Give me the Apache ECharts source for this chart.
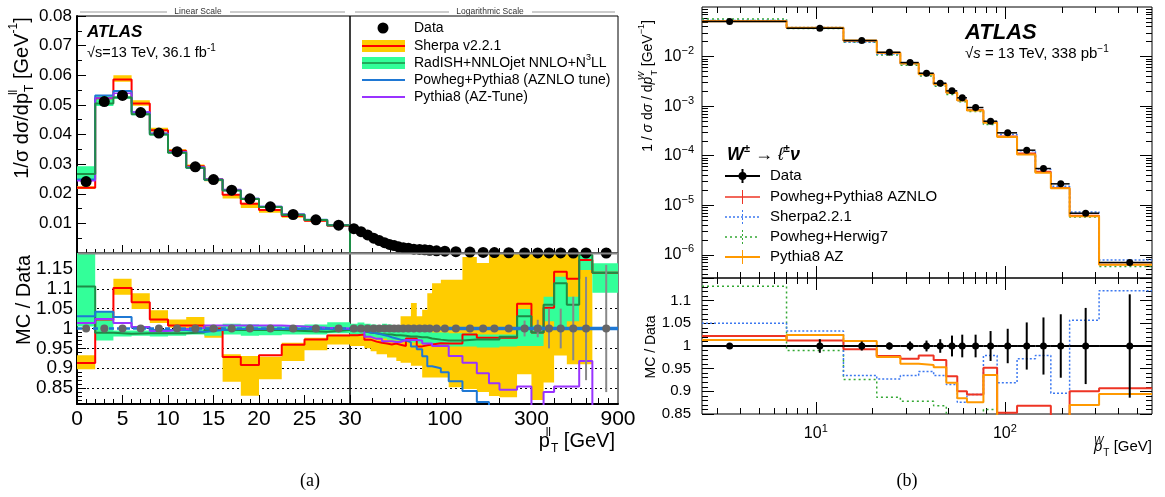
<!DOCTYPE html>
<html><head><meta charset="utf-8">
<script src="https://cdn.jsdelivr.net/npm/echarts@6/dist/echarts.min.js"></script>
<style>html,body{margin:0;padding:0;background:#fff}#c{width:1165px;height:497px}</style>
</head><body><div id="c"></div>
<script>
// ================= Panel (a): Z boson pT =================
// linear part (0-30 GeV)
const edgesLin = [0,2,4,6,8,10,12,14,16,18,20,22.5,25,27.5,30];
const dataLin = [0.0241,0.0511,0.0532,0.0474,0.0405,0.0342,0.0291,0.0248,0.0212,0.0183,0.0156,0.0130,0.0112,0.0094];
const sherpaLin = [0.0220,0.0522,0.0586,0.0505,0.0414,0.0345,0.0293,0.0249,0.0197,0.0166,0.01455,0.01247,0.01089,0.00924];
const sherpaLinLo = [0.0216,0.0517,0.0578,0.0497,0.0410,0.0342,0.0289,0.0242,0.0184,0.0152,0.0136,0.0119,0.0106,0.0090];
const sherpaLinHi = [0.0225,0.0528,0.0600,0.0516,0.0423,0.0350,0.0299,0.0250,0.0198,0.0170,0.0145,0.0125,0.0109,0.0093];
const radishLin = [0.0267,0.0505,0.0525,0.0468,0.0400,0.0338,0.0288,0.0247,0.0211,0.0182,0.01554,0.01292,0.01111,0.00936];
const radishLinLo = [0.0244,0.0496,0.0521,0.0465,0.0397,0.0336,0.0287,0.0244,0.0209,0.0180,0.0153,0.0128,0.0110,0.0093];
const radishLinHi = [0.0293,0.0533,0.0529,0.0472,0.0403,0.0341,0.0291,0.0249,0.0215,0.0185,0.0157,0.0131,0.0113,0.0095];
const powhegLin = [0.0248,0.0532,0.0547,0.0475,0.0403,0.0341,0.0288,0.0247,0.0212,0.0183,0.0156,0.0130,0.0112,0.0094];
const pythiaLin = [0.0244,0.0523,0.0539,0.0476,0.0403,0.0342,0.0291,0.0250,0.0214,0.0184,0.0157,0.0131,0.0112,0.0094];
// ratios, linear part
const dataRatioLin = [1,1,1,1,1,1,1,1,1,1,1,1,1,1];
const sherpaRLin = [0.913,1.0225,1.102,1.066,1.0225,1.0075,1.0075,1.0,0.928,0.908,0.9325,0.959,0.9725,0.9825];
const sherpaRLinLo = [0.8975,1.01,1.085,1.049,1.014,1.0017,0.993,0.977,0.866,0.831,0.872,0.918,0.945,0.96];
const sherpaRLinHi = [0.9325,1.035,1.125,1.089,1.046,1.0225,1.029,1.006,0.935,0.931,0.929,0.964,0.977,0.985];
const radishRLin = [1.106,0.989,0.987,0.988,0.988,0.988,0.99,0.996,0.996,0.996,0.996,0.994,0.992,0.996];
const radishRLinLo = [1.005,0.97,0.98,0.982,0.98,0.982,0.985,0.982,0.985,0.982,0.983,0.985,0.985,0.988];
const radishRLinHi = [1.25,1.043,0.995,0.995,0.995,0.997,1.0,1.005,1.012,1.01,1.008,1.008,1.01,1.016];
const powhegRLin = [1.031,1.042,1.029,1.002,0.996,0.996,0.991,0.996,0.999,0.999,0.999,0.999,0.999,0.999];
const pythiaRLin = [1.014,1.024,1.014,1.004,0.994,0.999,1.001,1.0075,1.0075,1.0075,1.0075,1.005,1.002,1.0];
// logarithmic part (30-900 GeV)
const edgesLog = [30,33,36,39,42,45,48,51,54,57,61,65,70,75,80,85,95,105,125,150,175,200,250,300,350,400,470,550,650,900];
const dataLog = [0.0082,0.0072,0.0061,0.0050,0.0042,0.0035,0.0029,0.0025,0.0021,0.0018,0.0016,0.0013,0.0012,0.0011,0.0009,0.00075,0.0006,0.00045,0.0003,0.0002,0.00013,0.00008,0.00004,0.00002,0.000012,0.000007,0.0000035,0.0000015,0.0000004];
const dataRatioLog = [1,1,1,1,1,1,1,1,1,1,1,1,1,1,1,1,1,1,1,1,1,1,1,1,1,1,1,1,1];
const dataRatioLogErr = [0.002,0.002,0.002,0.002,0.002,0.002,0.002,0.002,0.002,0.002,0.002,0.002,0.002,0.002,0.002,0.002,0.002,0.003,0.004,0.005,0.006,0.008,0.02,0.022,0.05,0.05,0.08,0.13,0.16];
const sherpaRLog = [0.983,0.985,0.972,0.967,0.964,0.962,0.96,0.962,0.959,0.956,0.975,0.975,0.955,0.958,0.96,0.963,0.962,0.962,0.985,0.977,0.977,0.977,1.0625,0.99,1.052,1.143,1.125,1.1725,1.14];
const sherpaRLogLo = [0.956,0.956,0.95,0.943,0.935,0.935,0.927,0.927,0.918,0.914,0.914,0.906,0.906,0.877,0.877,0.877,0.877,0.852,0.8475,0.84,0.83,0.827,0.885,0.82,0.864,0.932,0.91,0.91,null];
const sherpaRLogHi = [0.99,0.995,0.995,0.998,1.0,1.0,1.002,1.003,1.004,1.031,1.031,1.064,1.031,1.0475,1.089,1.114,1.1225,1.1225,1.18,1.165,1.19,1.19,1.19,1.19,1.19,1.19,1.19,1.19,null];
const radishRLog = [0.995,0.993,0.99,0.988,0.986,0.985,0.985,0.983,0.983,0.982,0.98,0.98,0.978,0.978,0.975,0.972,0.97,0.97,0.9725,0.9725,0.9725,0.979,1.031,0.99,1.06,1.114,1.06,1.185,1.14];
const radishRLogLo = [0.985,0.983,0.98,0.978,0.975,0.975,0.972,0.97,0.97,0.968,0.968,0.965,0.962,0.96,0.958,0.955,0.955,0.955,0.955,0.952,0.952,0.955,0.956,0.956,1.018,0.9975,1.018,1.1475,1.09];
const radishRLogHi = [1.012,1.015,1.012,1.01,1.008,1.012,1.01,1.008,1.008,1.006,1.0,1.0,0.998,0.996,0.994,0.99,0.99,0.988,0.988,0.985,0.985,0.985,1.049,1.0075,1.08,1.13,1.08,1.19,1.164];
const powhegRLog = [0.997,0.993,0.99,0.988,0.985,0.982,0.978,0.975,0.972,0.97,0.965,0.955,0.948,0.93,0.905,0.9,0.89,0.8675,0.843,0.815,0.79,0.77,0.75,0.74,0.73,0.72,0.71,0.70,0.69];
const pythiaRLog = [0.997,0.995,0.979,0.974,0.974,0.968,0.968,0.966,0.966,0.971,0.971,0.971,0.97,0.9625,0.9625,0.956,0.956,0.931,0.914,0.8875,0.862,0.846,0.854,0.79,0.84,0.854,0.854,0.918,0.79];
// tick labels (a)
const yTicksA = [0.01,0.02,0.03,0.04,0.05,0.06,0.07,0.08];
const ratioTicksA = [0.85,0.9,0.95,1,1.05,1.1,1.15];
const logLabelsA = [100,300,900];
const logTicksA = [40,50,60,70,80,90,100,200,300,400,500,600,700,800];
const ratioRef = 1;

// ================= Panel (b): W boson pT =================
const edgesB = [0,7,14,21,28,35,42,49,56,63,77,91,116,145,175,220,315,600];
const dataB = [0.0508,0.0373,0.0210,0.0122,0.00757,0.00461,0.00290,0.00203,0.00147,0.000936,0.000496,0.000289,0.000129,0.000055,0.000027,0.0000069,0.00000070];
const dataBRelErr = [0.004,0.015,0.01,0.008,0.01,0.012,0.015,0.023,0.025,0.025,0.033,0.038,0.052,0.063,0.07,0.084,0.114];
const aznloB = [0.0519,0.0377,0.0209,0.0119,0.00736,0.00451,0.00281,0.00189,0.00132,0.000836,0.000472,0.000247,0.000112,0.0000477,0.0000224,0.0000062,0.000000635];
const sherpaB = [0.0533,0.0385,0.0196,0.0113,0.00708,0.00435,0.00271,0.00186,0.00129,0.000836,0.000486,0.000266,0.000125,0.0000538,0.0000242,0.0000073,0.000000785];
const herwigB = [0.0575,0.0369,0.0194,0.0108,0.00665,0.00405,0.00252,0.00171,0.00123,0.000777,0.000427,0.00024,0.000108,0.0000462,0.0000224,0.0000058,0.00000058];
const pythiaB = [0.0515,0.0382,0.0212,0.0119,0.00727,0.00442,0.00276,0.00187,0.00130,0.00082,0.000464,0.000237,0.000106,0.0000451,0.0000221,0.0000060,0.000000626];
const dataRatioB = [1,1,1,1,1,1,1,1,1,1,1,1,1,1,1,1,1];
const aznloRB = [1.022,1.012,0.993,0.978,0.972,0.979,0.969,0.933,0.90,0.893,0.952,0.853,0.868,0.868,0.83,0.90,0.907];
const sherpaRB = [1.050,1.033,0.935,0.927,0.935,0.944,0.935,0.915,0.876,0.893,0.979,0.919,0.972,0.979,0.896,1.057,1.122];
const herwigRB = [1.132,0.990,0.926,0.887,0.878,0.878,0.868,0.84,0.84,0.83,0.86,0.83,0.84,0.84,0.83,0.84,0.83];
const pythiaRB = [1.013,1.024,1.011,0.976,0.961,0.958,0.953,0.919,0.885,0.876,0.936,0.82,0.82,0.82,0.82,0.870,0.894];
// tick labels (b)
const xLabelsB = [10,100];
const xMinorB = [3,4,5,6,7,8,9,20,30,40,50,60,70,80,90,200,300,400,500];
const yLabelsB = [1e-6,1e-5,1e-4,1e-3,1e-2];
const yMinorB = [];
for (let e = -7; e <= -2; e++) for (let m = 2; m <= 9; m++) { const v = +(m * Math.pow(10, e)).toPrecision(3); if (v >= 3.4e-7 && v <= 0.1) yMinorB.push(v); }
const ratioMinorA = [];
for (let k = 82; k <= 118; k++) if (k % 5) ratioMinorA.push(k / 100);

// ================= helpers =================
const F = "'Liberation Sans', Arial, Helvetica, sans-serif";
const FS = "'Liberation Serif', 'Times New Roman', serif";
const COL = {sherpaBand:'#FFCC00', sherpa:'#FF0000', radBand:'#33FF99', rad:'#1E8C46', powheg:'#1F78D4', pythia:'#9933FF',
  gray:'#666666', bRed:'#EE3424', bOrange:'#FF9900', bBlue:'#3C78F0', bGreen:'#33A833'};

function stepData(edges, vals, xmin) {
  const d = vals.map((v, i) => [Math.max(edges[i], xmin), v]);
  d.push([edges[vals.length], vals[vals.length - 1]]);
  return d;
}
function stepLine(xi, yi, data, color, width, dash, z) {
  return {type:'line', xAxisIndex:xi, yAxisIndex:yi, step:'end', symbol:'none', data, clip:true, silent:true, z: z || 3,
    lineStyle:{color, width, type: dash || 'solid'}};
}
// band drawn as one stepped polygon per contiguous run of bins
function band(xi, yi, edges, lo, hi, color, xmin, z) {
  const segs = []; let cur = null;
  lo.forEach((l, i) => {
    if (l != null && hi[i] != null) {
      if (!cur) { cur = []; segs.push(cur); }
      cur.push([Math.max(edges[i], xmin), edges[i + 1], l, hi[i]]);
    } else cur = null;
  });
  return {type:'custom', xAxisIndex:xi, yAxisIndex:yi, clip:true, silent:true, z: z || 2,
    data: segs.map(s => [s[0][0], s[s.length - 1][1], s[0][3]]),
    encode:{x:[0,1], y:[2]},
    renderItem(p, api) {
      const s = segs[p.dataIndex];
      const top = [], bot = [];
      s.forEach(r => {
        top.push(api.coord([r[0], r[3]]), api.coord([r[1], r[3]]));
        bot.push(api.coord([r[0], r[2]]), api.coord([r[1], r[2]]));
      });
      return {type:'polygon', shape:{points: top.concat(bot.reverse())}, style:{fill:color}};
    }};
}
function dots(xi, yi, edges, vals, color, size, z) {
  return {type:'scatter', xAxisIndex:xi, yAxisIndex:yi, symbolSize:size, silent:true, z: z || 6,
    itemStyle:{color, opacity:1}, data: vals.map((v, i) => [(edges[i] + edges[i + 1]) / 2, v])};
}
function errSeries(xi, yi, edges, vals, relErr, o) {
  const data = vals.map((v, i) => [Math.max(edges[i], o.xmin), edges[i + 1], (edges[i] + edges[i + 1]) / 2, v, relErr[i]]);
  return {type:'custom', xAxisIndex:xi, yAxisIndex:yi, clip:true, silent:true, z: o.z || 6, data,
    encode:{x:[0,1,2], y:[3]},
    renderItem(p, api) {
      const x0 = api.value(0), x1 = api.value(1), xc = api.value(2), y = api.value(3), e = api.value(4);
      const c = api.coord([xc, y]), hi = api.coord([xc, y * (1 + e)]), lo = api.coord([xc, y * (1 - e)]);
      const ch = [];
      if (o.xbar) {
        const L = api.coord([x0, y]), R = api.coord([x1, y]);
        ch.push({type:'line', shape:{x1:L[0], y1:L[1], x2:R[0], y2:R[1]}, style:{stroke:o.color, lineWidth:o.lw}});
      }
      ch.push({type:'line', shape:{x1:c[0], y1:hi[1], x2:c[0], y2:lo[1]}, style:{stroke:o.color, lineWidth:o.lw}});
      if (o.r) ch.push({type:'circle', shape:{cx:c[0], cy:c[1], r:o.r}, style:{fill:o.color}});
      return {type:'group', children: ch};
    }};
}
function refLine(xi, yi, x0, x1, color, width, dash) {
  return {type:'line', xAxisIndex:xi, yAxisIndex:yi, symbol:'none', silent:true, z:5, data:[[x0, ratioRef],[x1, ratioRef]],
    lineStyle:{color, width, type: dash || 'solid'}};
}
const TK = {color:'#000', width:1};
const noLine = {show:false, onZero:false};
const thick = {show:true, onZero:false, lineStyle:{color:'#000', width:2}};
const powLabel = v => '{b|10}{s|' + String(Math.round(Math.log10(v))).replace('-', '\u2212') + '}';
const powRich = {
  b:{fontSize:16, fontFamily:F, color:'#000', lineHeight:22, verticalAlign:'middle'},
  s:{fontSize:11, fontFamily:F, color:'#000', lineHeight:11, verticalAlign:'top'}
};

// ================= axes =================
function bxAxes(g, labels) {
  const base = {gridIndex:g, type:'log', min:2.5, max:600, axisLine:noLine, splitLine:{show:false}};
  return [
    Object.assign({}, base, {position:'bottom', axisTick:{inside:true, length:12, customValues:xLabelsB, lineStyle:TK},
      axisLabel: labels ? {customValues:xLabelsB, formatter:powLabel, rich:powRich, margin:9} : {show:false}}),
    Object.assign({}, base, {position:'bottom', axisTick:{inside:true, length:6, customValues:xMinorB, lineStyle:TK}, axisLabel:{show:false}}),
    Object.assign({}, base, {position:'top', axisTick:{inside:true, length:12, customValues:xLabelsB, lineStyle:TK}, axisLabel:{show:false}}),
    Object.assign({}, base, {position:'top', axisTick:{inside:true, length:6, customValues:xMinorB, lineStyle:TK}, axisLabel:{show:false}})
  ];
}
const xAxis = [
  {gridIndex:0, type:'value', min:0, max:30, interval:5, axisLine:noLine, axisTick:{inside:true, length:8, lineStyle:TK},
    minorTick:{show:true, splitNumber:5, length:4, lineStyle:TK}, axisLabel:{show:false}, splitLine:{show:false}},
  {gridIndex:1, type:'log', min:30, max:900, axisLine:noLine, axisTick:{inside:true, length:5, customValues:logTicksA, lineStyle:TK},
    axisLabel:{show:false}, splitLine:{show:false}},
  {gridIndex:2, type:'value', min:0, max:30, interval:5, axisLine:thick, axisTick:{inside:true, length:9, lineStyle:TK},
    minorTick:{show:true, splitNumber:5, length:5, lineStyle:TK}, axisLabel:{fontSize:21, color:'#000', fontFamily:F, margin:5}, splitLine:{show:false}},
  {gridIndex:3, type:'log', min:30, max:900, axisLine:thick, axisTick:{inside:true, length:6, customValues:logTicksA, lineStyle:TK},
    axisLabel:{customValues:logLabelsA, fontSize:21, color:'#000', fontFamily:F, margin:5}, splitLine:{show:false}},
  ...bxAxes(4, false),   // 4..7
  ...bxAxes(5, true)     // 8..11
];
const dotted = {show:true, lineStyle:{color:'#000', width:1, type:[2,3]}};
function byAxes() {
  const base = {gridIndex:4, type:'log', min:3.4e-7, max:0.1, axisLine:noLine, splitLine:{show:false}};
  return [
    Object.assign({}, base, {position:'left', axisTick:{inside:true, length:12, customValues:yLabelsB, lineStyle:TK},
      axisLabel:{customValues:yLabelsB, formatter:powLabel, rich:powRich, margin:8}}),
    Object.assign({}, base, {position:'left', axisTick:{inside:true, length:6, customValues:yMinorB, lineStyle:TK}, axisLabel:{show:false}}),
    Object.assign({}, base, {position:'right', axisTick:{inside:true, length:12, customValues:yLabelsB, lineStyle:TK}, axisLabel:{show:false}}),
    Object.assign({}, base, {position:'right', axisTick:{inside:true, length:6, customValues:yMinorB, lineStyle:TK}, axisLabel:{show:false}})
  ];
}
const yAxis = [
  {gridIndex:0, type:'value', min:0, max:0.08, interval:0.01, axisLine:thick, axisTick:{inside:true, length:9, lineStyle:TK},
    minorTick:{show:true, splitNumber:2, length:5, lineStyle:TK},
    axisLabel:{fontSize:17, color:'#000', fontFamily:F, margin:5, formatter: v => yTicksA.indexOf(+v.toFixed(2)) >= 0 ? v.toFixed(2) : ''}, splitLine:{show:false}},
  {gridIndex:1, type:'value', min:0, max:0.08, show:false},
  {gridIndex:2, type:'value', min:0.81, max:1.19, axisLine:thick, axisTick:{inside:true, length:9, customValues:ratioTicksA, lineStyle:TK},
    axisLabel:{customValues:ratioTicksA, fontSize:19, color:'#000', fontFamily:F, margin:4}, splitLine:dotted},
  {gridIndex:3, type:'value', min:0.81, max:1.19, axisLine:noLine, axisTick:{show:false, customValues:ratioTicksA}, axisLabel:{show:false}, splitLine:dotted},
  ...byAxes(),  // 4..7
  {gridIndex:5, type:'value', min:0.85, max:1.15, interval:0.05, position:'left', axisLine:noLine, axisTick:{inside:true, length:12, lineStyle:TK},
    minorTick:{show:true, splitNumber:5, length:6, lineStyle:TK}, axisLabel:{fontSize:15, color:'#000', fontFamily:F, margin:11, showMaxLabel:false}, splitLine:{show:false}},
  {gridIndex:5, type:'value', min:0.85, max:1.15, interval:0.05, position:'right', axisLine:noLine, axisTick:{inside:true, length:12, lineStyle:TK},
    minorTick:{show:true, splitNumber:5, length:6, lineStyle:TK}, axisLabel:{show:false}, splitLine:{show:false}},
  {gridIndex:2, type:'value', min:0.81, max:1.19, position:'left', axisLine:noLine, axisTick:{inside:true, length:5, customValues:ratioMinorA, lineStyle:TK}, axisLabel:{show:false}, splitLine:{show:false}}
];

// ================= series =================
const series = [
  // (a) upper, linear
  band(0, 0, edgesLin, sherpaLinLo, sherpaLinHi, COL.sherpaBand, 0, 1),
  stepLine(0, 0, stepData(edgesLin, sherpaLin, 0), COL.sherpa, 2),
  band(0, 0, edgesLin, radishLinLo, radishLinHi, COL.radBand, 0, 2),
  stepLine(0, 0, stepData(edgesLin, radishLin, 0).concat([[30, 0]]), COL.rad, 2, null, 4),
  stepLine(0, 0, stepData(edgesLin, powhegLin, 0), COL.powheg, 2),
  stepLine(0, 0, stepData(edgesLin, pythiaLin, 0), COL.pythia, 1.5),
  dots(0, 0, edgesLin, dataLin, '#000', 11),
  // (a) upper, log
  dots(1, 1, edgesLog, dataLog, '#000', 11),
  // (a) ratio, linear
  band(2, 2, edgesLin, sherpaRLinLo, sherpaRLinHi, COL.sherpaBand, 0, 1),
  band(2, 2, edgesLin, radishRLinLo, radishRLinHi, COL.radBand, 0, 2),
  stepLine(2, 2, stepData(edgesLin, sherpaRLin, 0), COL.sherpa, 2),
  stepLine(2, 2, stepData(edgesLin, radishRLin, 0), COL.rad, 2),
  stepLine(2, 2, stepData(edgesLin, powhegRLin, 0), COL.powheg, 2),
  stepLine(2, 2, stepData(edgesLin, pythiaRLin, 0), COL.pythia, 2),
  refLine(2, 2, 0, 30, COL.powheg, 2.5, [5,3]),
  dots(2, 2, edgesLin, dataRatioLin, COL.gray, 8),
  // (a) ratio, log
  band(3, 3, edgesLog, sherpaRLogLo, sherpaRLogHi, COL.sherpaBand, 30, 1),
  band(3, 3, edgesLog, radishRLogLo, radishRLogHi, COL.radBand, 30, 2),
  stepLine(3, 3, stepData(edgesLog, sherpaRLog, 30), COL.sherpa, 2),
  stepLine(3, 3, stepData(edgesLog, radishRLog, 30), COL.rad, 2),
  stepLine(3, 3, stepData(edgesLog, powhegRLog, 30), COL.powheg, 2),
  stepLine(3, 3, stepData(edgesLog, pythiaRLog, 30), COL.pythia, 2),
  refLine(3, 3, 30, 900, COL.powheg, 3.5),
  errSeries(3, 3, edgesLog, dataRatioLog, dataRatioLogErr, {xmin:30, color:'#888', lw:2}),
  dots(3, 3, edgesLog, dataRatioLog, COL.gray, 8),
  // (b) upper
  stepLine(4, 4, stepData(edgesB, herwigB, 2.5), COL.bGreen, 1.5, [2,3]),
  stepLine(4, 4, stepData(edgesB, sherpaB, 2.5), COL.bBlue, 1.5, [2,2]),
  stepLine(4, 4, stepData(edgesB, aznloB, 2.5), COL.bRed, 1.5),
  stepLine(4, 4, stepData(edgesB, pythiaB, 2.5), COL.bOrange, 2),
  errSeries(4, 4, edgesB, dataB, dataBRelErr, {xmin:2.5, xbar:true, color:'#000', lw:1.5, r:3.5}),
  // (b) ratio
  stepLine(8, 8, stepData(edgesB, herwigRB, 2.5), COL.bGreen, 1.5, [2,3]),
  stepLine(8, 8, stepData(edgesB, sherpaRB, 2.5), COL.bBlue, 1.5, [2,2]),
  stepLine(8, 8, stepData(edgesB, aznloRB, 2.5), COL.bRed, 2),
  stepLine(8, 8, stepData(edgesB, pythiaRB, 2.5), COL.bOrange, 2),
  errSeries(8, 8, edgesB, dataRatioB, dataBRelErr, {xmin:2.5, xbar:true, color:'#000', lw:2, r:3.5})
];

// ================= text / legends (graphic) =================
function tok(size, o) {
  o = o || {};
  return {fontSize:size, fontFamily:o.ff || F, fontStyle:o.it ? 'italic' : 'normal', fontWeight:o.bold ? 'bold' : 'normal',
    fill:o.color || '#000', verticalAlign:o.va || 'middle', lineHeight:o.lh, width:o.w};
}
function txt(x, y, text, size, o) {
  o = o || {};
  const st = {text, fill:o.color || '#000', fontSize:size, fontFamily:o.ff || F, fontStyle:o.it ? 'italic' : 'normal',
    fontWeight:o.bold ? 'bold' : 'normal', align:o.align || 'left', verticalAlign:'middle'};
  if (o.rich) st.rich = o.rich;
  if (o.lh) st.lineHeight = o.lh;
  return {type:'text', x, y, rotation:o.rot || 0, z:100, silent:true, style:st};
}
function ln(x1, y1, x2, y2, color, w, dash) {
  return {type:'line', z:100, silent:true, shape:{x1, y1, x2, y2}, style:{stroke:color, lineWidth:w, lineDash:dash || null}};
}
function rect(x, y, w, h, color) { return {type:'rect', z:99, silent:true, shape:{x, y, width:w, height:h}, style:{fill:color}}; }
function circ(cx, cy, r, color) { return {type:'circle', z:101, silent:true, shape:{cx, cy, r}, style:{fill:color}}; }

const R20 = {
  sp: tok(12, {va:'top', lh:12}),
  su: tok(12, {va:'top', lh:12, w:1}),
  sb: tok(12, {va:'bottom', lh:12})
};
const gl = [
  // header lines (a)
  ln(80, 12, 167, 12, '#999', 1), txt(198, 12, 'Linear Scale', 8.5, {align:'center', color:'#333'}), ln(230, 12, 345, 12, '#999', 1),
  ln(355, 12, 449, 12, '#999', 1), txt(490, 12, 'Logarithmic Scale', 8.5, {align:'center', color:'#333'}), ln(532, 12, 615, 12, '#999', 1),
  // separator between upper and ratio pad (a)
  ln(78, 253.5, 618, 253.5, '#888', 2),
  // ATLAS label (a)
  txt(87, 32, 'ATLAS', 17, {it:true, bold:true}),
  txt(87, 53, '\u221As=13 TeV, 36.1 fb{sp|-1}', 14.5, {lh:20, rich:{sp: tok(10, {va:'top', lh:10})}}),
  // legend (a)
  circ(383, 28, 5.5, '#000'), txt(414, 28, 'Data', 14),
  rect(362, 40, 43, 12, COL.sherpaBand), ln(362, 46, 405, 46, COL.sherpa, 2), txt(414, 46, 'Sherpa v2.2.1', 14),
  rect(362, 57, 43, 12, COL.radBand), ln(362, 63, 405, 63, COL.rad, 1.5), txt(414, 63, 'RadISH+NNLOjet NNLO+N{sp|3}LL', 14, {lh:20, rich:{sp: tok(9, {va:'top', lh:9})}}),
  ln(362, 80, 405, 80, COL.powheg, 2), txt(414, 80, 'Powheg+Pythia8 (AZNLO tune)', 14),
  ln(362, 97, 405, 97, COL.pythia, 2), txt(414, 97, 'Pythia8 (AZ-Tune)', 14),
  // axis titles (a)
  txt(22, 98, '1/\u03C3 d\u03C3/dp{su|ll}{sb|T} [GeV{sp|-1}]', 20, {rot:Math.PI/2, align:'center', lh:28, rich:R20}),
  txt(24, 300, 'MC / Data', 20, {rot:Math.PI/2, align:'center'}),
  txt(615, 441, 'p{su|ll}{sb|T} [GeV]', 20, {align:'right', lh:28, rich:R20}),
  // (b) labels
  txt(965, 33, 'ATLAS', 22, {it:true, bold:true}),
  txt(965, 54, '\u221A{i|s} = 13 TeV, 338 pb{sp|\u22121}', 15, {lh:20, rich:{i: tok(15, {it:true}), sp: tok(10, {va:'top', lh:10})}}),
  txt(648, 86, '1 / {i|\u03C3} d{i|\u03C3} / d{i|p}{su|W}{sb|T} [GeV{sp|\u22121}]', 14, {rot:Math.PI/2, align:'center', lh:22,
    rich:{i: tok(14, {it:true}), su: tok(9, {it:true, va:'top', lh:9, w:1}), sb: tok(9, {va:'bottom', lh:9}), sp: tok(9, {va:'top', lh:9})}}),
  txt(651, 347, 'MC / Data', 14, {rot:Math.PI/2, align:'center'}),
  txt(1152, 447, '{i|p}{su|W}{sb|T} [GeV]', 15, {align:'right', lh:22,
    rich:{i: tok(15, {it:true}), su: tok(10, {it:true, va:'top', lh:10, w:1}), sb: tok(10, {va:'bottom', lh:10})}}),
  // legend (b)
  txt(727, 155, '{w|W}{s|\u00B1} \u2192 {l|\u2113}{s|\u00B1}{w|\u03BD}', 18, {bold:true, lh:24,
    rich:{w: tok(18, {it:true, bold:true}), l: tok(18, {it:true}), s: tok(11, {va:'top', lh:11, bold:true})}}),
  ln(725, 176, 760, 176, '#000', 2), ln(742.5, 169, 742.5, 183, '#000', 2), circ(742.5, 176, 4, '#000'), txt(770, 176, 'Data', 15),
  ln(725, 197, 760, 197, COL.bRed, 1.5), ln(742.5, 190, 742.5, 204, COL.bRed, 1), txt(770, 197, 'Powheg+Pythia8 AZNLO', 15),
  ln(725, 217, 760, 217, COL.bBlue, 1.5, [2,2]), ln(742.5, 210, 742.5, 224, COL.bBlue, 1, [2,2]), txt(770, 217, 'Sherpa2.2.1', 15),
  ln(725, 237, 760, 237, COL.bGreen, 1.5, [2,3]), ln(742.5, 230, 742.5, 244, COL.bGreen, 1, [2,2]), txt(770, 237, 'Powheg+Herwig7', 15),
  ln(725, 257, 760, 257, COL.bOrange, 2), ln(742.5, 250, 742.5, 264, COL.bOrange, 1), txt(770, 257, 'Pythia8 AZ', 15),
  // sub-figure captions
  txt(310, 481, '(a)', 18, {ff:FS, align:'center'}),
  txt(907, 481, '(b)', 18, {ff:FS, align:'center'})
];

const gridBase = {show:true, borderColor:'#000', borderWidth:1, backgroundColor:'transparent', containLabel:false, outerBoundsMode:'none'};
const grid = [
  {left:77, top:16, width:273, height:237},
  {left:350, top:16, width:268, height:237},
  {left:77, top:253, width:273, height:151},
  {left:350, top:253, width:268, height:151},
  {left:702, top:7, width:450, height:271},
  {left:702, top:278, width:450, height:136}
].map(g => Object.assign({}, gridBase, g));

const chart = echarts.init(document.getElementById('c'), null, {renderer:'canvas', width:1165, height:497});
chart.setOption({
  animation:false,
  backgroundColor:'#fff',
  textStyle:{fontFamily:F},
  grid, xAxis, yAxis, series,
  graphic: gl
});
</script>
</body></html>
